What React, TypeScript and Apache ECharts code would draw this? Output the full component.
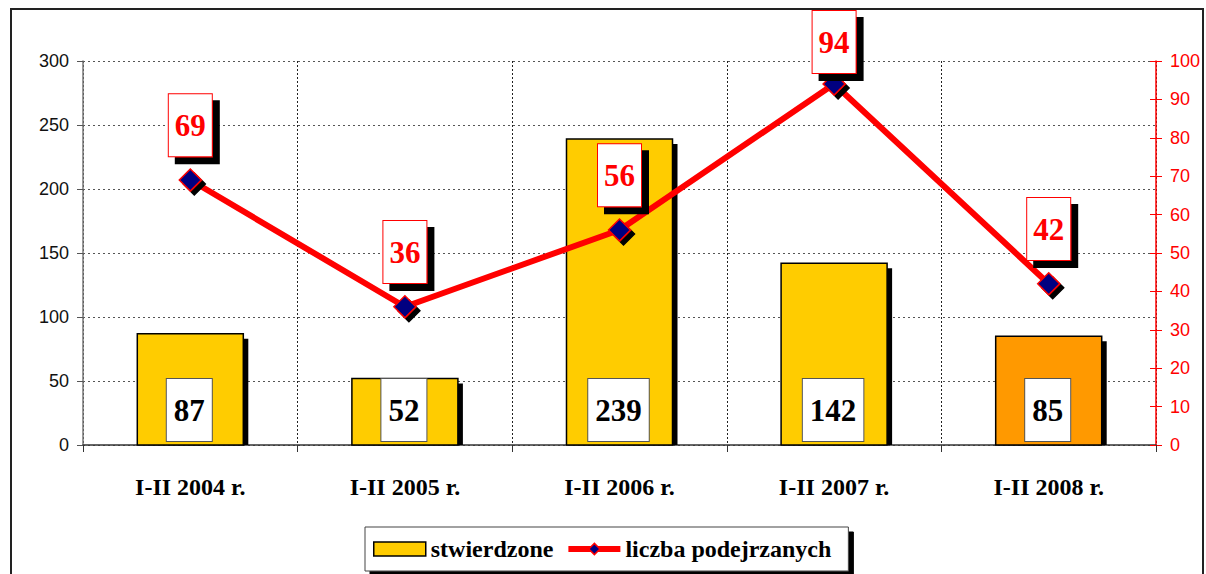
import React, { useEffect, useRef } from "react";
import * as echarts from "echarts";

const categories = ["I-II 2004 r.", "I-II 2005 r.", "I-II 2006 r.", "I-II 2007 r.", "I-II 2008 r."];
const stwierdzone = [87, 52, 239, 142, 85];
const podejrzani = [69, 36, 56, 94, 42];
const barColors = ["#FFCC00", "#FFCC00", "#FFCC00", "#FFCC00", "#FF9900"];
const leftTicks = { min: 0, max: 300, interval: 50 };
const rightTicks = { min: 0, max: 100, interval: 10 };

const SERIF = "Liberation Serif";
const SANS = "Liberation Sans";

export default function App() {
  const ref = useRef<HTMLDivElement>(null);

  useEffect(() => {
    if (!ref.current) return;
    const chart = echarts.init(ref.current, null, { renderer: "svg" });

    const renderBar = (params: any, api: any) => {
      const idx = params.dataIndex;
      const v = api.value(1);
      const top = api.coord([api.value(0), v]);
      const base = api.coord([api.value(0), 0]);
      const w = api.size([1, 0])[0] * 0.494;
      const left = top[0] - w / 2;
      const h = base[1] - top[1];
      const sh = 5;
      return {
        type: "group",
        children: [
          {
            type: "rect",
            shape: { x: left + sh, y: top[1] + sh, width: w, height: Math.max(0, h - sh) },
            style: { fill: "#000" },
          },
          {
            type: "rect",
            shape: { x: left, y: top[1], width: w, height: h },
            style: { fill: barColors[idx], stroke: "#000", lineWidth: 1.5 },
          },
          {
            type: "text",
            x: top[0] - 1,
            y: base[1] - 4,
            z2: 10,
            style: {
              text: String(v),
              font: `bold 31px "${SERIF}"`,
              fill: "#000",
              align: "center",
              verticalAlign: "bottom",
              backgroundColor: "#fff",
              borderColor: "#555",
              borderWidth: 1,
              padding: [15, 7, 14, 7],
              lineHeight: 33,
            },
          },
        ],
      };
    };

    chart.setOption({
      animation: false,
      backgroundColor: "#fff",
      grid: { left: 83, right: 50, top: 61, bottom: 129, containLabel: false },
      graphic: [
        {
          type: "rect",
          shape: { x: 11, y: 9, width: 1192, height: 620 },
          style: { fill: "none", stroke: "#222", lineWidth: 2 },
          z: -1,
          silent: true,
        },
      ],
      legend: {
        left: 365,
        top: 527,
        orient: "horizontal",
        backgroundColor: "#fff",
        borderColor: "#444",
        borderWidth: 1,
        shadowColor: "#000",
        shadowBlur: 0,
        shadowOffsetX: 5,
        shadowOffsetY: 5,
        padding: [9, 17, 9, 8],
        itemWidth: 52,
        itemHeight: 14,
        itemGap: 12,
        textStyle: {
          fontFamily: SERIF,
          fontSize: 24,
          fontWeight: "bold",
          color: "#000",
          lineHeight: 26,
        },
        data: [
          {
            name: "stwierdzone",
            icon: "rect",
            itemStyle: { color: "#FFCC00", borderColor: "#000", borderWidth: 1.5 },
          },
          {
            name: "liczba podejrzanych",
            lineStyle: { color: "#FF0000", width: 6 },
            itemStyle: { color: "#000080", borderColor: "#FF0000", borderWidth: 1.5 },
          },
        ],
      },
      xAxis: {
        type: "category",
        data: categories,
        boundaryGap: true,
        axisLine: { show: true, lineStyle: { color: "#333", width: 1.5 } },
        axisTick: { show: true, length: 7, lineStyle: { color: "#333" } },
        axisLabel: {
          margin: 30,
          fontFamily: SERIF,
          fontSize: 24,
          fontWeight: "bold",
          color: "#000",
        },
        splitLine: { show: true, lineStyle: { color: "#222", type: [2, 2], width: 1 } },
      },
      yAxis: [
        {
          type: "value",
          position: "left",
          ...leftTicks,
          axisLine: { show: true, lineStyle: { color: "#777", width: 1.5 } },
          axisTick: { show: true, length: 6, lineStyle: { color: "#555" } },
          axisLabel: { margin: 14, fontFamily: SANS, fontSize: 18, color: "#111" },
          splitLine: { show: true, lineStyle: { color: "#555", type: [2, 3], width: 1 } },
        },
        {
          type: "value",
          position: "right",
          ...rightTicks,
          axisLine: { show: true, lineStyle: { color: "#FF0000", width: 1.5 } },
          axisTick: { show: true, length: 6, lineStyle: { color: "#FF0000" } },
          axisLabel: { margin: 14, fontFamily: SANS, fontSize: 18, color: "#FF0000" },
          splitLine: { show: false },
        },
        {
          type: "value",
          position: "right",
          ...rightTicks,
          axisLine: { show: false },
          axisTick: { show: true, inside: true, length: 6, lineStyle: { color: "#FF0000" } },
          axisLabel: { show: false },
          splitLine: { show: false },
        },
      ],
      series: [
        {
          name: "stwierdzone",
          type: "custom",
          yAxisIndex: 0,
          z: 2,
          itemStyle: { color: "#FFCC00", borderColor: "#000", borderWidth: 1.5 },
          renderItem: renderBar,
          encode: { x: 0, y: 1 },
          data: stwierdzone.map((v, i) => [i, v]),
        },
        {
          name: "liczba podejrzanych",
          type: "line",
          yAxisIndex: 1,
          z: 5,
          data: podejrzani,
          symbol: "diamond",
          symbolSize: 22,
          lineStyle: { color: "#FF0000", width: 6 },
          itemStyle: {
            color: "#000080",
            borderColor: "#FF0000",
            borderWidth: 1.5,
            shadowColor: "#000",
            shadowBlur: 0,
            shadowOffsetX: 4,
            shadowOffsetY: 4,
          },
          label: {
            show: true,
            position: "top",
            distance: 12,
            fontFamily: SERIF,
            fontSize: 31,
            fontWeight: "bold",
            color: "#FF0000",
            backgroundColor: "#fff",
            borderColor: "#FF0000",
            borderWidth: 1,
            padding: [15, 6, 14, 6],
            lineHeight: 33,
            shadowColor: "#000",
            shadowBlur: 0,
            shadowOffsetX: 7,
            shadowOffsetY: 7,
          },
          labelLayout: (p: any) => (p.labelRect.y < 10 ? { dy: 10 - p.labelRect.y } : {}),
        },
      ],
    });

    return () => chart.dispose();
  }, []);

  return (
    <div
      ref={ref}
      style={{ position: "absolute", left: 0, top: 0, width: 1206, height: 574 }}
    />
  );
}
